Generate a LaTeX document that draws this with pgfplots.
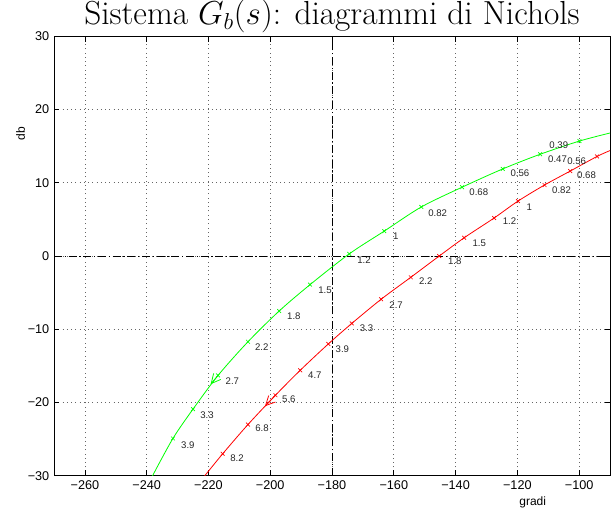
\documentclass[border=0pt]{standalone}
\usepackage{fontspec}
\newfontfamily\hv{Liberation Sans}
\usepackage{pgfplots}
\pgfplotsset{compat=1.18}
\usetikzlibrary{arrows.meta}
\begin{document}
\begin{tikzpicture}
\begin{axis}[
  scale only axis, width=417pt, height=329.6pt,
  xmin=-270, xmax=-90, ymin=-30, ymax=30,
  xtick={-260,-240,...,-100},
  xticklabels={−260,−240,−220,−200,−180,−160,−140,−120,−100},
  ytick={-30,-20,...,30},
  yticklabels={−30,−20,−10,0,10,20,30},
  tick align=inside, major tick length=4pt,
  tick style={black, line width=0.5pt},
  axis line style={line width=0.7pt},
  grid=major,
  major grid style={black!60, line width=0.5pt, dash pattern=on 0.6pt off 2.6pt},
  ticklabel style={font=\hv\fontsize{9.5}{11}\selectfont},
  title={Sistema $G_b(s)$: diagrammi di Nichols},
  title style={at={(0.5,1)}, anchor=base, inner sep=0pt, yshift=2.6pt, font=\fontsize{25}{30}\selectfont},
  xlabel={gradi}, ylabel={db},
  xlabel style={at={(axis description cs:0.861,0)}, anchor=center, inner sep=0pt, yshift=-20pt, font=\hv\fontsize{9}{11}\selectfont},
  ylabel style={at={(axis description cs:0,0.778)}, anchor=center, inner sep=0pt, yshift=25pt, font=\hv\fontsize{9}{11}\selectfont},
]
% reference lines
\addplot[black, line width=0.6pt, dash pattern=on 6pt off 2pt on 1pt off 2pt] coordinates {(-180,-30) (-180,30)};
\addplot[black, line width=0.6pt, dash pattern=on 6pt off 2pt on 1pt off 2pt] coordinates {(-270,0) (-90,0)};
% green curve
\addplot[green, line width=0.6pt, smooth] coordinates {
(-238.1,-30) (-231.5,-24.9) (-225.0,-20.9) (-216.9,-16.3) (-207.2,-11.7) (-197.1,-7.5)
(-187.1,-3.9) (-174.4,0.3) (-163.1,3.4) (-151.1,6.7) (-137.9,9.4) (-124.7,11.9)
(-112.6,13.9) (-99.9,15.7) (-90,16.8)};
\addplot[green, only marks, mark=x, mark size=2pt, mark options={line width=0.5pt}] coordinates {
(-231.5,-24.9) (-225.0,-20.9) (-216.9,-16.3) (-207.2,-11.7) (-197.1,-7.5)
(-187.1,-3.9) (-174.4,0.3) (-163.1,3.4) (-151.1,6.7) (-137.9,9.4) (-124.7,11.9)
(-112.6,13.9) (-99.9,15.7)};
\addplot[green, line width=0.6pt, -{Straight Barb[length=7pt,width=7pt]}] coordinates {(-216.9,-16.3) (-219.3,-17.5)};
% red curve
\addplot[red, line width=0.6pt, smooth] coordinates {
(-221.2,-30) (-215.4,-27.0) (-207.2,-23.0) (-198.3,-19.0) (-190.3,-15.6) (-181.2,-12.0)
(-173.6,-9.2) (-164.1,-5.9) (-154.5,-2.9) (-145.3,0.0) (-137.2,2.5) (-127.5,5.2)
(-119.8,7.5) (-111.2,9.7) (-102.9,11.6) (-94.2,13.6) (-90,14.4)};
\addplot[red, only marks, mark=x, mark size=2pt, mark options={line width=0.5pt}] coordinates {
(-215.4,-27.0) (-207.2,-23.0) (-198.3,-19.0) (-190.3,-15.6) (-181.2,-12.0)
(-173.6,-9.2) (-164.1,-5.9) (-154.5,-2.9) (-145.3,0.0) (-137.2,2.5) (-127.5,5.2)
(-119.8,7.5) (-111.2,9.7) (-102.9,11.6) (-94.2,13.6)};
\addplot[red, line width=0.6pt, -{Straight Barb[length=7pt,width=7pt]}] coordinates {(-198.3,-19.0) (-201.7,-20.5)};
% frequency labels
\addplot[draw=none, mark=none, nodes near coords, point meta=explicit symbolic,
  every node near coord/.style={anchor=west, inner sep=0pt, text=black!85, font=\hv\fontsize{7.2}{8}\selectfont}]
  table[meta=lab] {
x y lab
-109.7 15.1 0.39
-110.1 13.2 0.47
-122.3 11.3 0.56
-135.6 8.7 0.68
-148.9 5.9 0.82
-160.3 2.7 1
-171.9 -0.5 1.2
-184.5 -4.6 1.5
-194.6 -8.2 1.8
-205.0 -12.5 2.2
-214.5 -17.1 2.7
-222.7 -21.7 3.3
-228.9 -25.8 3.9
-213.0 -27.6 8.2
-204.9 -23.5 6.8
-196.2 -19.6 5.6
-187.8 -16.2 4.7
-178.9 -12.7 3.9
-171.1 -9.9 3.3
-161.5 -6.7 2.7
-151.9 -3.4 2.2
-142.5 -0.7 1.8
-134.6 1.7 1.5
-124.8 4.7 1.2
-117.1 6.7 1
-108.8 9.0 0.82
-100.7 11.0 0.68
-103.9 12.9 0.56
};
\end{axis}
\path ([shift={(-40.5pt,-26.25pt)}]current axis.south west) rectangle ([shift={(4.5pt,26.6pt)}]current axis.north east);
\end{tikzpicture}
\end{document}
